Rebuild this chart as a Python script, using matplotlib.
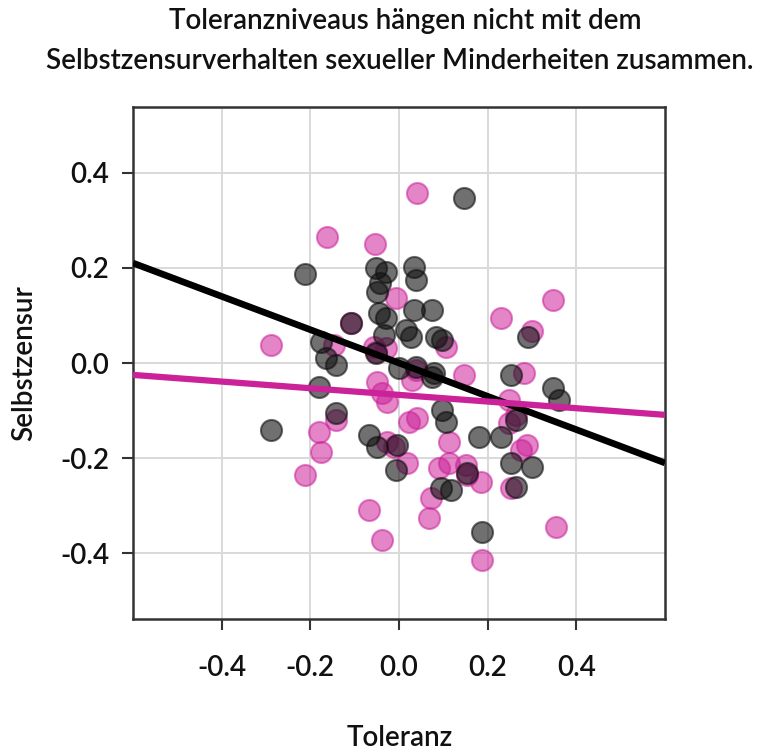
import matplotlib
matplotlib.use("Agg")
import matplotlib.pyplot as plt
import numpy as np

# ---- data ----
black_x = [-0.211, 0.146, -0.052, -0.029, -0.043, -0.049, 0.034, 0.038, -0.045, -0.029,
           0.034, 0.074, -0.108, -0.034, 0.016, 0.027, 0.083, 0.097, 0.292, -0.175,
           -0.164, -0.142, -0.052, 0.000, 0.038, 0.079, -0.180, 0.252, 0.074, 0.348,
           0.360, 0.265, 0.097, 0.106, -0.142, -0.288, -0.067, -0.049, -0.004, -0.007,
           0.180, 0.229, 0.252, 0.299, 0.153, 0.094, 0.117, 0.265, 0.187]
black_y = [0.187, 0.347, 0.200, 0.192, 0.168, 0.149, 0.202, 0.175, 0.105, 0.095,
           0.112, 0.112, 0.084, 0.059, 0.069, 0.055, 0.055, 0.048, 0.055, 0.044,
           0.011, -0.004, 0.021, -0.011, -0.008, -0.021, -0.051, -0.025, -0.029, -0.053,
           -0.078, -0.120, -0.099, -0.124, -0.105, -0.141, -0.152, -0.177, -0.173, -0.225,
           -0.156, -0.156, -0.211, -0.219, -0.232, -0.263, -0.267, -0.261, -0.356]

pink_x = [0.040, -0.162, -0.054, -0.007, 0.348, 0.229, 0.301, -0.288, -0.146, -0.056,
          -0.029, 0.106, -0.108, -0.049, -0.038, -0.027, 0.029, 0.146, 0.281, 0.247,
          0.247, -0.142, -0.180, -0.175, -0.213, -0.067, -0.038, -0.027, 0.018, 0.022,
          0.040, 0.112, 0.090, 0.112, 0.151, 0.184, 0.072, 0.067, 0.187, 0.252,
          0.288, 0.355, -0.011, 0.153, 0.276, 0.038, -0.052, 0.263]
pink_y = [0.358, 0.265, 0.251, 0.137, 0.133, 0.095, 0.067, 0.038, 0.038, 0.034,
          0.032, 0.034, 0.084, -0.040, -0.063, -0.082, -0.036, -0.025, -0.021, -0.078,
          -0.126, -0.120, -0.145, -0.187, -0.236, -0.309, -0.373, -0.166, -0.211, -0.124,
          -0.116, -0.166, -0.221, -0.211, -0.215, -0.251, -0.284, -0.326, -0.415, -0.263,
          -0.173, -0.345, -0.177, -0.236, -0.183, -0.015, 0.023, -0.109]

# fitted lines (intercept, slope)
black_fit = (0.000, -0.350)
pink_fit = (-0.067, -0.070)

x_ticks = [-0.4, -0.2, 0.0, 0.2, 0.4]
y_ticks = [-0.4, -0.2, 0.0, 0.2, 0.4]

title_lines = ["Toleranzniveaus hängen nicht mit dem",
               "Selbstzensurverhalten sexueller Minderheiten zusammen."]
xlabel = "Toleranz"
ylabel = "Selbstzensur"

BLACK = "#111111"
PINK = "#CC2299"
TEXT = "#111111"

plt.rcParams['font.family'] = ['Lato', 'DejaVu Sans']
WEIGHT = 'semibold'

fig = plt.figure(figsize=(7.6, 7.52), dpi=100)
ax = fig.add_axes([133/760, 1 - 619/752, (665-133)/760, (619-107)/752])

xlim = (-0.6, 0.6)
ylim = (-0.538, 0.538)
ax.set_xlim(*xlim)
ax.set_ylim(*ylim)

ax.grid(True, color="#d9d9d9", linewidth=1.4)
ax.set_axisbelow(True)

ax.scatter(pink_x, pink_y, s=230, facecolor=PINK, edgecolor=PINK, linewidth=1.5, alpha=0.55, zorder=2)
ax.scatter(black_x, black_y, s=230, facecolor=BLACK, edgecolor=BLACK, linewidth=1.5, alpha=0.6, zorder=3)

xs = np.array(xlim)
ax.plot(xs, black_fit[0] + black_fit[1] * xs, color="black", linewidth=4.8, zorder=4, solid_capstyle='butt')
ax.plot(xs, pink_fit[0] + pink_fit[1] * xs, color=PINK, linewidth=4.5, zorder=4, solid_capstyle='butt')

ax.set_xticks(x_ticks)
ax.set_yticks(y_ticks)
ax.set_xticklabels([f"{v:.1f}" for v in x_ticks])
ax.set_yticklabels([f"{v:.1f}" for v in y_ticks])
ax.tick_params(axis='both', direction='out', length=8, width=1.5, color="#333333",
               labelsize=20, labelcolor=TEXT)
ax.tick_params(axis='x', pad=18)
ax.tick_params(axis='y', pad=9)
for lab in ax.get_xticklabels() + ax.get_yticklabels():
    lab.set_fontweight(WEIGHT)

for s in ax.spines.values():
    s.set_color("#333333")
    s.set_linewidth(1.8)

fig.text(405/760, 1 - 21/752, title_lines[0], ha='center', va='center', fontsize=20,
         color=TEXT, fontweight=WEIGHT)
fig.text(400/760, 1 - 61/752, title_lines[1], ha='center', va='center', fontsize=20,
         color=TEXT, fontweight=WEIGHT)
fig.text(400/760, 1 - 738/752, xlabel, ha='center', va='center', fontsize=20,
         color=TEXT, fontweight=WEIGHT)
fig.text(24/760, 1 - 363/752, ylabel, ha='center', va='center', fontsize=20,
         rotation=90, color=TEXT, fontweight=WEIGHT)

fig.savefig("out.png", dpi=100)
